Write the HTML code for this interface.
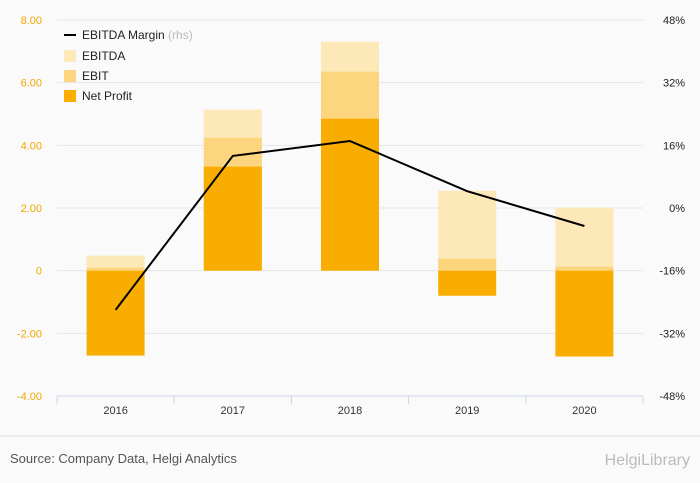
<!DOCTYPE html>
<html><head><meta charset="utf-8">
<style>
body{margin:0;background:#fafafa;font-family:"Liberation Sans",sans-serif;}
svg{display:block}
</style></head>
<body>
<svg id="chart" width="700" height="483">
<rect width="700" height="483" fill="#fafafa"/>
<g id="grid"></g><g id="bars"></g><g id="line"></g><g id="axes"></g>
<g font-size="12" fill="#222">
 <line x1="64" y1="35" x2="76" y2="35" stroke="#000" stroke-width="2"/>
 <text x="82" y="39">EBITDA Margin <tspan fill="#bbb">(rhs)</tspan></text>
 <rect x="64" y="50" width="12" height="12" fill="#fde9b8"/><text x="82" y="60">EBITDA</text>
 <rect x="64" y="70" width="12" height="12" fill="#fcd57e"/><text x="82" y="80">EBIT</text>
 <rect x="64" y="90" width="12" height="12" fill="#f9ad00"/><text x="82" y="100">Net Profit</text>
</g>
<line x1="0" y1="436" x2="700" y2="436" stroke="#ddd"/>
<text x="10" y="463" font-size="13" fill="#555">Source: Company Data, Helgi Analytics</text>
<text x="690" y="465" font-size="16" fill="#bbb" text-anchor="end">HelgiLibrary</text>
</svg>
<script>
const categories=["2016","2017","2018","2019","2020"];
const ebitda=[0.48,5.14,7.31,2.55,2.01];
const ebit=[0.10,4.24,6.35,0.38,0.13];
const netProfit=[-2.71,3.32,4.85,-0.80,-2.74];
const margin=[-26,13.3,17.1,4.3,-4.6];
const leftTicks=[8,6,4,2,0,-2,-4];
const rightTicks=[48,32,16,0,-16,-32,-48];
const NS="http://www.w3.org/2000/svg";
const x0=57,x1=643,yTop=20,yBot=396;
const yL=v=>yTop+(8-v)/12*(yBot-yTop);
const yR=v=>yTop+(48-v)/96*(yBot-yTop);
const band=(x1-x0)/categories.length;
const xc=i=>x0+band*(i+0.5);
function mk(tag,attrs,parent){const e=document.createElementNS(NS,tag);for(const k in attrs)e.setAttribute(k,attrs[k]);document.getElementById(parent).appendChild(e);return e;}
leftTicks.forEach((t,i)=>{
 const y=yL(t);
 const g=mk("line",{x1:x0,x2:x1,y1:y,y2:y,stroke:"#e6e6e6"},"grid");
 
 
 const l=mk("text",{x:42,y:y+4,"font-size":11,fill:"#f0a800","text-anchor":"end"},"axes");
 l.textContent=t===0?"0":t.toFixed(2);
 
 
 const r=mk("text",{x:685,y:yR(rightTicks[i])+4,"font-size":11,fill:"#222","text-anchor":"end"},"axes");
 r.textContent=rightTicks[i]+"%";
 
 
});
const bw=58;
function bar(v,i,color,name){
 const y=Math.min(yL(v),yL(0)),h=Math.abs(yL(v)-yL(0));
 const r=mk("rect",{x:xc(i)-bw/2,y:y,width:bw,height:h,fill:color},"bars");
 
 
}
categories.forEach((c,i)=>{
 bar(ebitda[i],i,"#fde9b8","bar-ebitda-"+c);
 bar(ebit[i],i,"#fcd57e","bar-ebit-"+c);
 bar(netProfit[i],i,"#f9ad00","bar-net-profit-"+c);
 const t=mk("text",{x:xc(i),y:414,"font-size":11,fill:"#333","text-anchor":"middle"},"axes");
 t.textContent=c;
 
 
});
for(let i=0;i<=categories.length;i++){
 const tk=mk("line",{x1:x0+band*i,x2:x0+band*i,y1:yBot,y2:yBot+8,stroke:"#ccd6eb"},"axes");
 
 
}
const ax=mk("line",{x1:x0,x2:x1,y1:yBot,y2:yBot,stroke:"#ccd6eb"},"axes");


const p=mk("polyline",{points:margin.map((m,i)=>xc(i)+","+yR(m)).join(" "),fill:"none",stroke:"#000","stroke-width":2},"line");


</script>
</body></html>
